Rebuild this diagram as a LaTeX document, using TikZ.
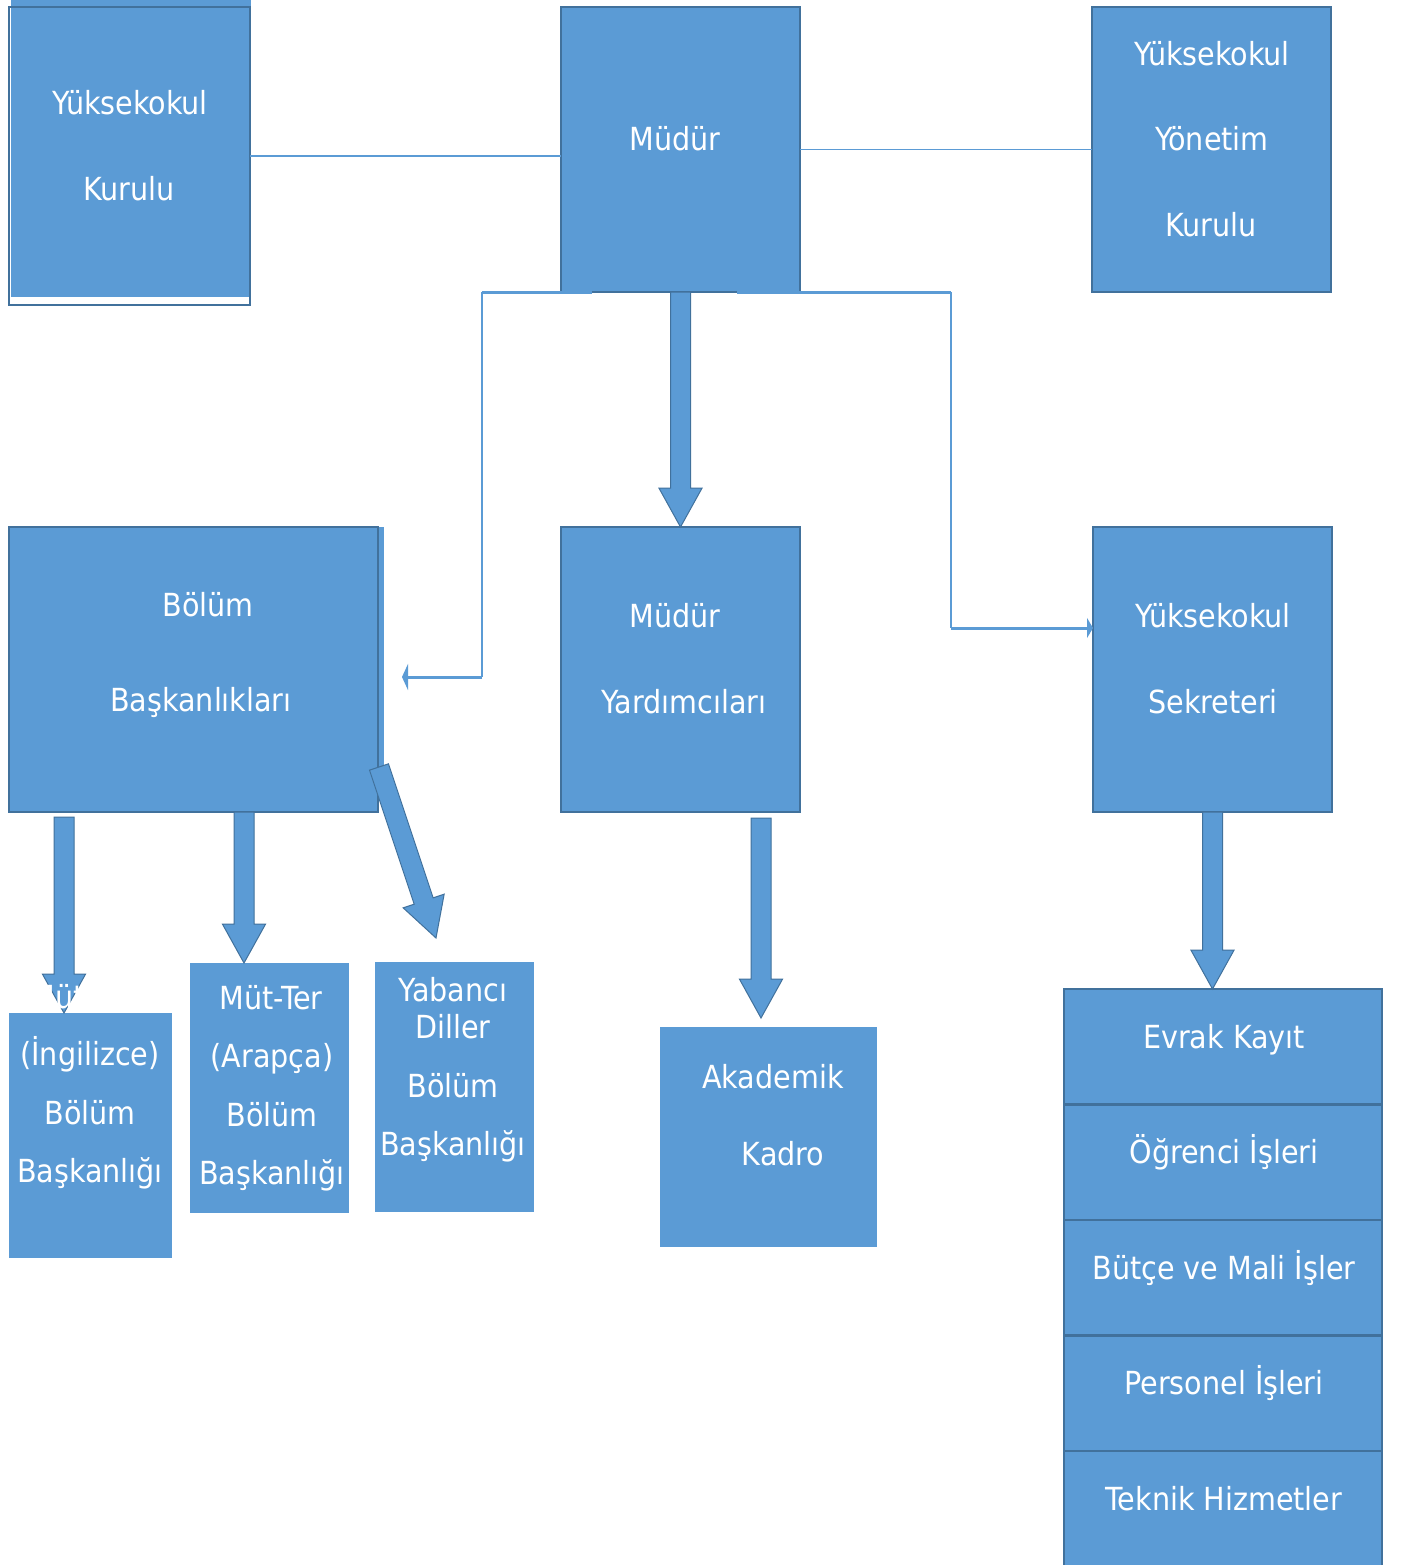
\documentclass[tikz,border=0pt]{standalone}
\usepackage{fontspec}
\setmainfont{DejaVu Sans Condensed}
\usetikzlibrary{calc,arrows.meta,positioning}

\definecolor{mavi}{HTML}{5B9BD5}
\definecolor{koyumavi}{HTML}{41719C}

\tikzset{
  kutu/.style={draw=koyumavi, fill=mavi, line width=1.2pt, inner sep=0pt, outer sep=0pt, anchor=north west},
  duzkutu/.style={kutu, draw=none},
  boyut/.style 2 args={minimum width=#1*0.5pt, minimum height=#2*0.5pt},
  yazi/.style={text=white, inner sep=0pt, text height=11.6pt, text depth=0pt, font=\fontsize{15.9}{18}\selectfont},
  ince/.style={draw=mavi, line width=0.75pt},
  kalin/.style={draw=mavi, line width=1.5pt},
  blokok/.style={draw=koyumavi, fill=mavi, line width=0.5pt,
    to path={
      ($(\tikztotarget)!19.5pt!(\tikztostart)$) coordinate (bh)
      ($(\tikztostart)!5pt!90:(\tikztotarget)$) -- ($(bh)!5pt!90:(\tikztotarget)$)
      -- ($(bh)!10.8pt!90:(\tikztotarget)$) -- (\tikztotarget)
      -- ($(bh)!10.8pt!-90:(\tikztotarget)$) -- ($(bh)!5pt!-90:(\tikztotarget)$)
      -- ($(\tikztostart)!5pt!-90:(\tikztotarget)$) -- cycle}}
}

\begin{document}
\begin{tikzpicture}[x=0.5pt, y=-0.5pt]
\fill[white] (0,0) rectangle (1403,1565);
\useasboundingbox (0,0) rectangle (1403,1565);

% ust sira
\fill[mavi] (11,0) rectangle (251,297);
\node[kutu, fill=none, boyut={241}{298}] (kurul) at (9,7) {};
\node[kutu, boyut={239}{285}] (mudur) at (561,7) {};
\node[kutu, boyut={239}{285}] (yonetim) at (1092,7) {};

% orta sira
\fill[mavi] (378,527) rectangle (384,770);
\node[kutu, boyut={369}{285}] (bolum) at (9,527) {};
\node[kutu, boyut={239}{285}] (yardimci) at (561,527) {};
\node[kutu, boyut={239}{285}] (sekreter) at (1093,527) {};

% alt sira
\node[duzkutu, boyut={163}{245}] (ingilizce) at (9,1013) {};
\node[duzkutu, boyut={159}{250}] (arapca) at (190,963) {};
\node[duzkutu, boyut={159}{250}] (yabanci) at (375,962) {};
\node[duzkutu, boyut={217}{220}] (akademik) at (660,1027) {};
\foreach \ad [count=\i from 0] in {Evrak Kayıt, Öğrenci İşleri, Bütçe ve Mali İşler, Personel İşleri, Teknik Hizmetler}{
  \node[kutu, boyut={318}{115.5}] (birim\i) at (1064,989+115.5*\i) {};
  \node[yazi] (birim\i yazi) at (1224,1036.5+115.5*\i) {\ad};
}

% ince baglantilar
\draw[ince] (kurul.east) -- (kurul.east -| mudur.west);
\draw[ince] (mudur.east) -- (yonetim.west);

\coordinate (solk) at (482,292);
\coordinate (solalt) at (482,677);
\draw[kalin] ($(mudur.south west)+(31,0)$) -- (solk);
\draw[ince] (solk) -- (solalt);
\draw[kalin, -{Triangle[length=3pt, width=13pt]}] (solalt) -- ($(bolum.east)+(24,7.5)$);

\coordinate (sagk) at (951,292);
\coordinate (sagalt) at (951,628);
\draw[kalin] ($(mudur.south east)+(-63,0)$) -- (sagk);
\draw[ince] (sagk) -- (sagalt);
\draw[kalin, -{Triangle[length=3pt, width=10pt]}] (sagalt) -- (sagalt -| sekreter.west);

% blok oklar
\coordinate (ok1a) at ($(bolum.south west)+(55,5)$);
\coordinate (ok1b) at ($(ingilizce.north west)+(55,0)$);
\coordinate (ok2a) at ($(bolum.south west)+(235,0)$);
\coordinate (ok2b) at ($(arapca.north west)+(54,0)$);
\coordinate (ok3a) at ($(bolum.north east)+(1,240)$);
\coordinate (ok3b) at ($(yabanci.north west)+(61,-24)$);
\coordinate (ok4a) at ($(yardimci.south west)+(200,6)$);
\coordinate (ok4b) at ($(akademik.north west)+(101,-9)$);
\coordinate (ok5b) at (sekreter.south |- birim0.north);
\draw[blokok] (mudur.south) to (yardimci.north);
\draw[blokok] (ok1a) to (ok1b);
\draw[blokok] (ok2a) to (ok2b);
\draw[blokok] (ok3a) to (ok3b);
\draw[blokok] (ok4a) to (ok4b);
\draw[blokok] (sekreter.south) to (ok5b);

% yazilar
\node[yazi] (kurul1) at (130,103) {Yüksekokul};
\node[yazi] (kurul2) at (129,189) {Kurulu};
\node[yazi] (mudur1) at (675,139) {Müdür};
\node[yazi] (yonetim1) at (1212,54) {Yüksekokul};
\node[yazi] (yonetim2) at (1212,139) {Yönetim};
\node[yazi] (yonetim3) at (1211,225) {Kurulu};
\node[yazi] (bolum1) at (208,605) {Bölüm};
\node[yazi] (bolum2) at (201,700) {Başkanlıkları};
\node[yazi] (yardimci1) at (675,616) {Müdür};
\node[yazi] (yardimci2) at (684,702) {Yardımcıları};
\node[yazi] (sekreter1) at (1213,616) {Yüksekokul};
\node[yazi] (sekreter2) at (1213,702) {Sekreteri};
\node[yazi] (ingilizce0) at (82,997) {Müt-Ter};
\node[yazi] (ingilizce1) at (90,1054) {(İngilizce)};
\node[yazi] (ingilizce2) at (90,1113) {Bölüm};
\node[yazi] (ingilizce3) at (90,1171) {Başkanlığı};
\node[yazi] (arapca1) at (271,998) {Müt-Ter};
\node[yazi] (arapca2) at (272,1056) {(Arapça)};
\node[yazi] (arapca3) at (272,1115) {Bölüm};
\node[yazi] (arapca4) at (272,1173) {Başkanlığı};
\node[yazi] (yabanci1) at (453,990) {Yabancı};
\node[yazi] (yabanci2) at (453,1027) {Diller};
\node[yazi] (yabanci3) at (453,1086) {Bölüm};
\node[yazi] (yabanci4) at (453,1144) {Başkanlığı};
\node[yazi] (akademik1) at (773,1077) {Akademik};
\node[yazi] (akademik2) at (783,1154) {Kadro};
\end{tikzpicture}
\end{document}
